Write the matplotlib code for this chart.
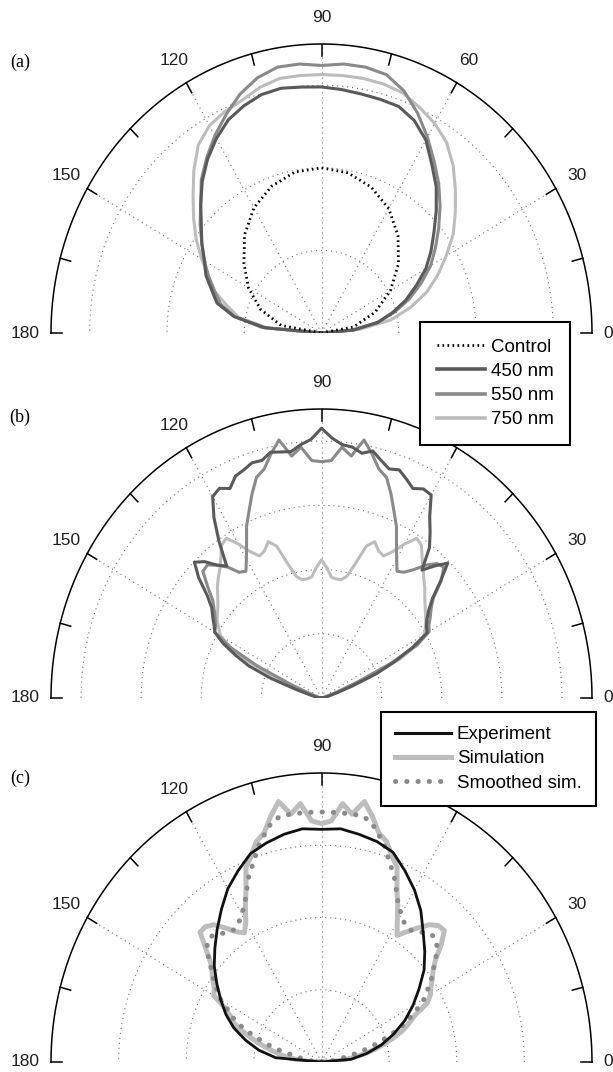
import numpy as np
import matplotlib
matplotlib.use("Agg")
import matplotlib.pyplot as plt
from matplotlib.lines import Line2D

plt.rcParams["font.family"] = ["Liberation Sans", "DejaVu Sans"]

# ---- panel (a): angle (deg) and radius per wavelength
theta_a = np.arange(0, 181, 5)
theta_ctrl = np.arange(0, 181, 10)
r_control = [0, .42, .74, 1.03, 1.30, 1.54, 1.74, 1.88, 1.97, 2.0, 1.98, 1.89, 1.75, 1.55, 1.31, 1.09, .84, .53, 0]
r_450_a = [0, .42, .74, .95, 1.16, 1.35, 1.56, 1.73, 1.90, 2.10, 2.31, 2.49, 2.70, 2.84, 2.92, 2.93, 2.94, 2.96, 2.98,
           2.99, 3.01, 2.99, 2.93, 2.85, 2.72, 2.57, 2.40, 2.21, 2.03, 1.89, 1.75, 1.65, 1.51, 1.40, 1.15, .74, 0]
r_550_a = [0, .39, .74, .98, 1.21, 1.42, 1.63, 1.80, 1.98, 2.17, 2.36, 2.54, 2.74, 2.94, 3.12, 3.24, 3.27, 3.27, 3.24,
           3.27, 3.27, 3.20, 3.08, 2.92, 2.76, 2.59, 2.42, 2.21, 2.05, 1.89, 1.75, 1.61, 1.47, 1.35, 1.14, .77, 0]
r_750_a = [0, .49, .91, 1.19, 1.45, 1.66, 1.86, 2.08, 2.26, 2.45, 2.65, 2.82, 2.93, 3.01, 3.09, 3.12, 3.13, 3.13, 3.13,
           3.13, 3.13, 3.08, 3.00, 2.96, 2.90, 2.78, 2.57, 2.35, 2.16, 1.98, 1.79, 1.61, 1.47, 1.26, 1.09, .70, 0]

# ---- panel (b): 2.5 deg steps
theta_b = np.arange(0, 180.1, 2.5)
r_450_b = [0, 0, 0, .02, .05, .09, .14, .27, .54, .99, 1.35, 1.71, 2.03, 2.07, 2.14, 2.25, 2.41, 2.68, 2.97,
           2.79, 2.60, 2.95, 3.15, 3.35, 3.65, 3.67, 3.60, 3.69, 3.78, 3.74, 3.83, 3.94, 3.87, 3.94, 3.96, 4.05,
           4.20,
           4.03, 3.96, 3.87, 3.89, 3.92, 3.83, 3.84, 3.78, 3.74, 3.60, 3.68, 3.62, 3.33, 2.97, 2.59, 2.70, 2.88,
           2.99, 2.77, 2.48, 2.30, 2.21, 2.12, 2.05, 1.85, 1.58, 1.31, .90, .45, .23, .14, .09, .05, .02, 0, 0]
r_550_b = [0, 0, 0, 0, .02, .05, .09, .14, .27, .63, 1.26, 1.80, 2.07, 2.12, 2.21, 2.30, 2.43, 2.70, 2.88,
           2.84, 2.70, 2.52, 2.39, 2.34, 2.50, 2.70, 2.95, 3.15, 3.38, 3.60, 3.69, 3.89, 4.08, 3.80, 3.92, 3.70,
           3.68,
           3.70, 3.92, 3.80, 4.08, 3.89, 3.69, 3.60, 3.38, 3.15, 2.95, 2.70, 2.50, 2.34, 2.39, 2.57, 2.70, 2.81,
           2.79, 2.57, 2.36, 2.25, 2.16, 2.09, 2.05, 1.71, 1.17, .54, .23, .14, .09, .05, .02, 0, 0, 0, 0]
r_750_b = [0, 0, 0, 0, 0, .05, .09, .14, .41, .90, 1.44, 1.80, 1.98, 2.05, 2.12, 2.18, 2.25, 2.33, 2.43,
           2.52, 2.63, 2.75, 2.90, 2.95, 2.77, 2.57, 2.44, 2.48, 2.59, 2.48, 2.16, 1.94, 1.87, 1.87, 1.89, 2.03,
           2.15,
           2.03, 1.89, 1.87, 1.87, 1.94, 2.16, 2.48, 2.59, 2.48, 2.44, 2.57, 2.77, 2.95, 2.90, 2.75, 2.63, 2.54,
           2.45, 2.34, 2.25, 2.18, 2.12, 2.03, 1.94, 1.71, 1.35, .81, .36, .14, .09, .05, 0, 0, 0, 0, 0]

# ---- panel (c)
theta_exp = np.arange(0, 181, 5)
r_exp = [0, .44, .68, .92, 1.14, 1.36, 1.56, 1.76, 1.98, 2.16, 2.34, 2.56, 2.75, 2.92, 3.09, 3.16, 3.2, 3.24, 3.22,
         3.24, 3.2, 3.14, 3.07, 2.92, 2.77, 2.58, 2.4, 2.23, 2.07, 1.89, 1.72, 1.56, 1.38, 1.16, .94, .68, 0]
theta_c = np.arange(0, 180.1, 2.5)
r_sim = [0, .16, .32, .48, .64, .80, .96, 1.12, 1.28, 1.40, 1.52, 1.76, 1.86, 1.92, 2.00, 2.08, 2.20, 2.40, 2.57,
         2.56, 2.48, 2.34, 2.20, 2.08, 2.24, 2.44, 2.64, 2.92, 3.04, 3.20, 3.28, 3.48, 3.66, 3.46, 3.59, 3.34,
         3.30,
         3.34, 3.59, 3.46, 3.66, 3.48, 3.28, 3.20, 3.04, 2.92, 2.64, 2.44, 2.24, 2.12, 2.20, 2.34, 2.48, 2.54,
         2.54, 2.32, 2.14, 2.04, 1.96, 1.88, 1.84, 1.60, 1.48, 1.40, 1.24, 1.08, .92, .76, .64, .52, .36, .20, 0]
r_smooth = [0, .04, .12, .20, .32, .48, .68, .88, 1.08, 1.28, 1.44, 1.60, 1.76, 1.86, 1.98, 2.08, 2.20, 2.32, 2.40,
            2.40, 2.34, 2.28, 2.24, 2.28, 2.36, 2.46, 2.62, 2.80, 2.94, 3.12, 3.26, 3.40, 3.46, 3.46, 3.46, 3.46,
            3.46,
            3.46, 3.46, 3.46, 3.46, 3.40, 3.26, 3.12, 2.94, 2.80, 2.62, 2.46, 2.36, 2.28, 2.24, 2.26, 2.32, 2.38,
            2.38, 2.30, 2.16, 2.04, 1.94, 1.82, 1.72, 1.56, 1.44, 1.28, 1.08, .88, .68, .44, .32, .20, .12, .04, 0]

W, H = 613, 1072
CX0, CX1, RY = 51, 592, 289
LABEL_R = {0: 1.06, 180: 1.095}


def xy(theta_deg, r):
    t = np.radians(np.asarray(theta_deg, dtype=float))
    r = np.asarray(r, dtype=float)
    return r * np.cos(t), r * np.sin(t)


def polar_axes(fig, cy, rmax, rings, hidden=()):
    ax = fig.add_axes([CX0 / W, (H - cy) / H, (CX1 - CX0) / W, RY / H])
    ax.set_xlim(-rmax, rmax)
    ax.set_ylim(0, rmax)
    ax.axis("off")
    grid = dict(color="0.45", lw=0.8, ls=(0, (1, 3.5)), zorder=1)
    t = np.linspace(0, np.pi, 361)
    for rr in rings:
        ax.plot(rr * np.cos(t), rr * np.sin(t), **grid)
    for deg in (30, 60, 90, 120, 150):
        ax.plot(*xy([0, deg], [0, rmax]), **grid)
    ax.plot([-rmax, rmax], [0, 0], **grid)
    ax.plot(rmax * np.cos(t), rmax * np.sin(t), color="k", lw=1.1, clip_on=False, zorder=3)
    for deg in range(15, 180, 15):
        ax.plot(*xy([deg, deg], [rmax, rmax * 0.96]), color="k", lw=1.1, zorder=3)
    for sgn in (-1, 1):
        ax.plot([sgn * rmax, sgn * rmax * 0.96], [0, 0], color="k", lw=1.1, clip_on=False, zorder=3)
    for deg in range(0, 181, 30):
        if deg in hidden:  # sits under a legend box in the original
            continue
        lx, ly = xy(deg, rmax * LABEL_R.get(deg, 1.09))
        ax.text(lx, ly, str(deg), ha="center", va="center", fontsize=12.5, color="#222222")
    return ax


fig = plt.figure(figsize=(W / 100, H / 100), dpi=100)

# (a)
ax = polar_axes(fig, 333, 3.5, [1, 2, 3])
ax.plot(*xy(theta_a, r_750_a), color="#bdbdbd", lw=2.2, zorder=4)
ax.plot(*xy(theta_a, r_550_a), color="#8a8a8a", lw=2.2, zorder=5)
ax.plot(*xy(theta_a, r_450_a), color="#5a5a5a", lw=2.2, zorder=6)
ax.plot(*xy(theta_ctrl, r_control), color="k", lw=2.0, ls=(0, (0.6, 1.2)), zorder=7)

# (b)
ax = polar_axes(fig, 698, 4.5, [1, 2, 3, 4], hidden=(60,))
ax.plot(*xy(theta_b, r_750_b), color="#bdbdbd", lw=2.2, zorder=4)
ax.plot(*xy(theta_b, r_550_b), color="#8a8a8a", lw=2.2, zorder=5)
ax.plot(*xy(theta_b, r_450_b), color="#5a5a5a", lw=2.2, zorder=6)

# (c)
ax = polar_axes(fig, 1062, 4.0, [1, 2, 3], hidden=(60,))
ax.plot(*xy(theta_c, r_sim), color="#bdbdbd", lw=3.6, zorder=4)
ax.plot(*xy(theta_c, r_smooth), color="#8a8a8a", lw=3.6, ls=(0, (0.05, 2.2)),
        dash_capstyle="round", solid_capstyle="round", zorder=5)
ax.plot(*xy(theta_exp, r_exp), color="#111111", lw=2.0, zorder=6)

for label, ypx in (("(a)", 62), ("(b)", 417), ("(c)", 778)):
    fig.text(20 / W, 1 - ypx / H, label, ha="center", va="center", fontsize=13,
             family=["Liberation Serif", "DejaVu Serif"])

leg_kw = dict(loc="upper left", frameon=True, fancybox=False, edgecolor="k", framealpha=1,
              fontsize=13.5, handletextpad=0.3, labelspacing=0.38, borderaxespad=0)

h_a = [Line2D([], [], color="k", lw=2.0, ls=(0, (0.6, 1.2))),
       Line2D([], [], color="#5a5a5a", lw=2.6),
       Line2D([], [], color="#8a8a8a", lw=2.6),
       Line2D([], [], color="#bdbdbd", lw=2.6)]
leg = fig.legend(h_a, ["Control", "450 nm", "550 nm", "750 nm"], borderpad=0.88, handlelength=2.6,
                 bbox_to_anchor=(420 / W, 1 - 322 / H), **leg_kw)
leg.get_frame().set_linewidth(1.5)

h_c = [Line2D([], [], color="#111111", lw=2.2),
       Line2D([], [], color="#bdbdbd", lw=3.6),
       Line2D([], [], color="#8a8a8a", lw=3.6, ls=(0, (0.05, 2.2)), dash_capstyle="round")]
leg = fig.legend(h_c, ["Experiment", "Simulation", "Smoothed sim."], borderpad=0.75, handlelength=3.0,
                 bbox_to_anchor=(381 / W, 1 - 712 / H), **leg_kw)
leg.get_frame().set_linewidth(1.5)

fig.savefig("out.png", dpi=100)
